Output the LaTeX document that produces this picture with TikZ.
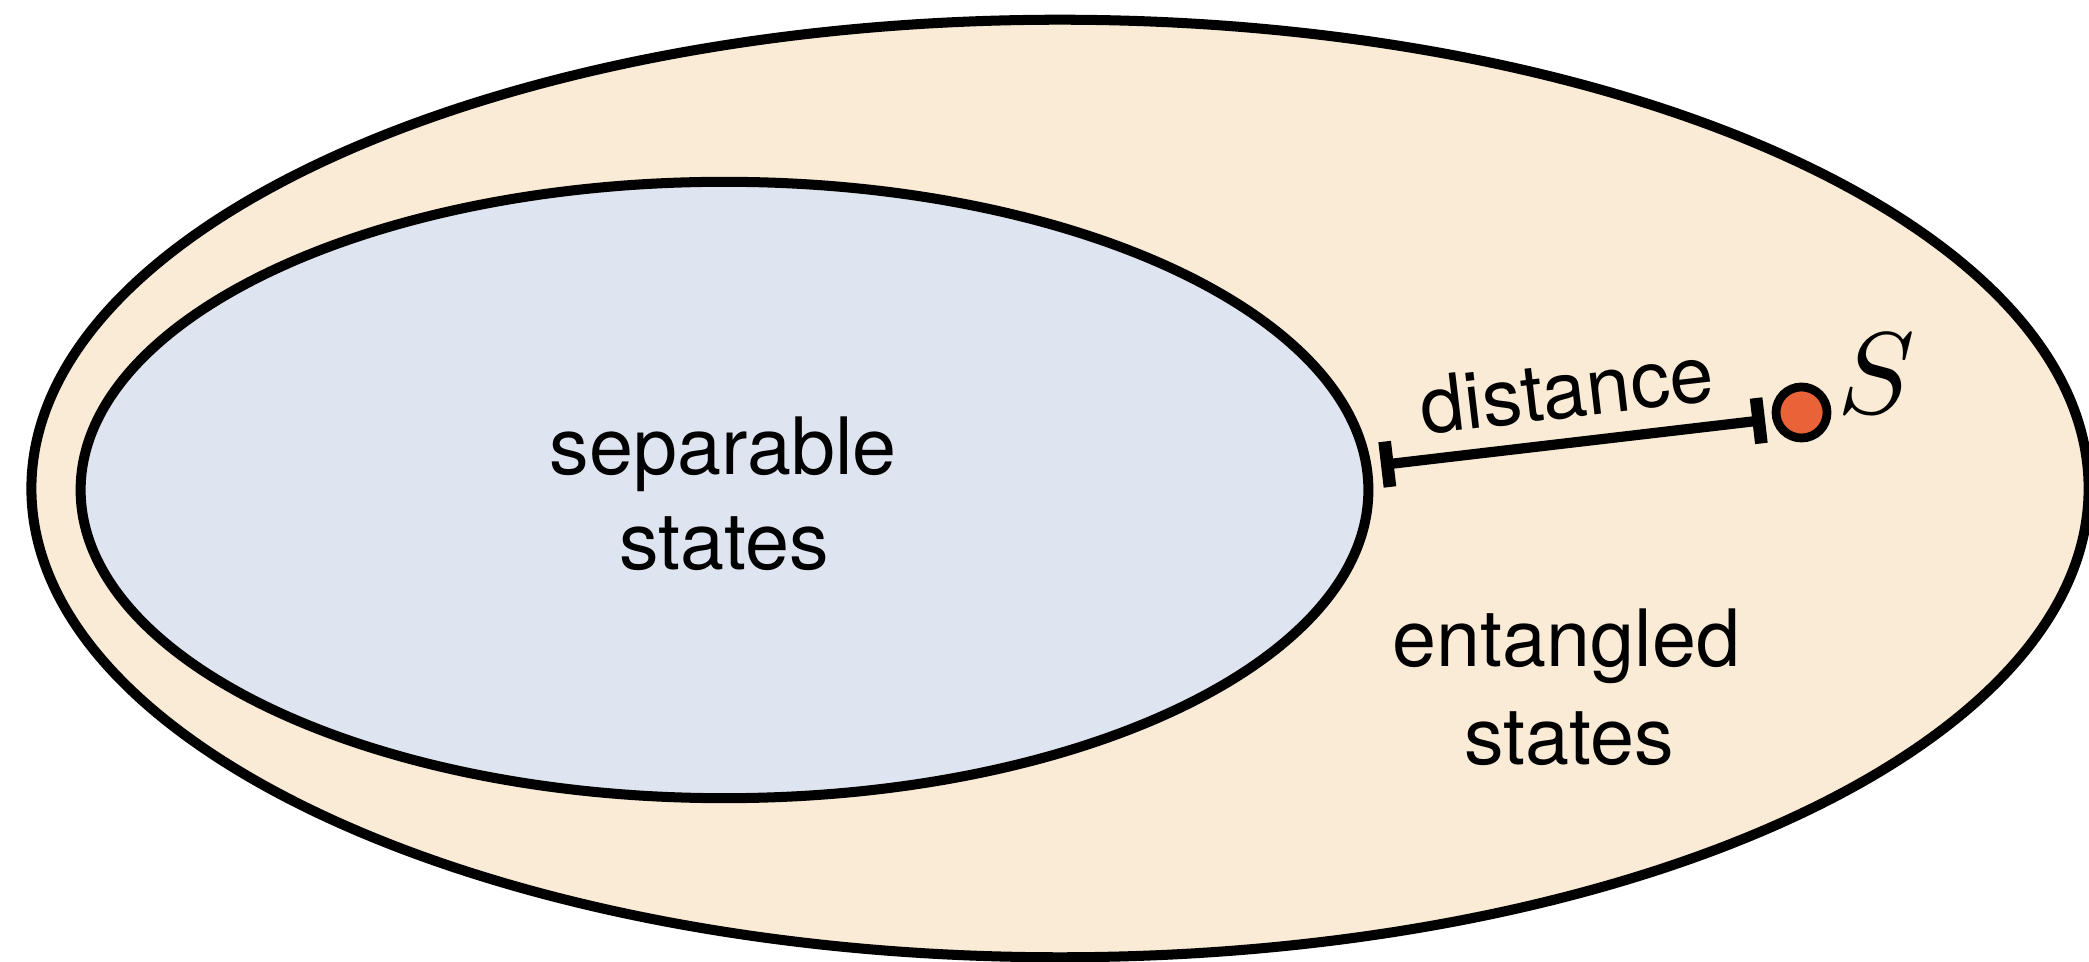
\documentclass[tikz,border=0pt]{standalone}
\usepackage{fontspec}
\setmainfont{TeX Gyre Heros}
\usetikzlibrary{arrows.meta}
\definecolor{entfill}{RGB}{250,235,215}
\definecolor{sepfill}{RGB}{223,229,240}
\definecolor{statedot}{RGB}{234,98,55}
\begin{document}
\begin{tikzpicture}[x=0.01cm,y=-0.01cm,
  region/.style={draw=black,line width=2.85pt},
  label/.style={anchor=base,inner sep=0pt,font=\fontsize{22.5}{27}\selectfont},
  gap/.style={line width=2.9pt,
    {Bar[width=13pt,line width=3.6pt]}-{Bar[width=13pt,line width=3.6pt]}},
  statept/.style={circle,draw=black,fill=statedot,line width=2.5pt,
    minimum size=0.51cm,inner sep=0pt}]
\useasboundingbox (0,0) rectangle (2089,962);

% set of all states and the separable subset
\draw[region,fill=entfill] (1060,488.5) ellipse [x radius=10.28cm, y radius=4.685cm];
\draw[region,fill=sepfill] (724.5,490) ellipse [x radius=6.435cm, y radius=3.08cm];

% region labels
\node[label] (sep1) at (723,475) {separable};
\node[label] (sep2) at (724,570) {states};
\node[label] (ent1) at (1566.5,667) {entangled};
\node[label] (ent2) at (1569,765) {states};

% the state and its distance to the separable set
\node[statept] (rho) at (1801.5,412.5) {};
\node[inner sep=0pt,font=\normalsize,scale=3.3] (slabel) at (1876,374) {$S$};
\coordinate (dl) at (1381,465);
\coordinate (dr) at (1765,420);
\draw[gap] (dl) -- node[sloped,above=0.19cm,inner sep=0pt,
  font=\fontsize{22.5}{27}\selectfont] (dlabel) {distance} (dr);
\end{tikzpicture}
\end{document}
